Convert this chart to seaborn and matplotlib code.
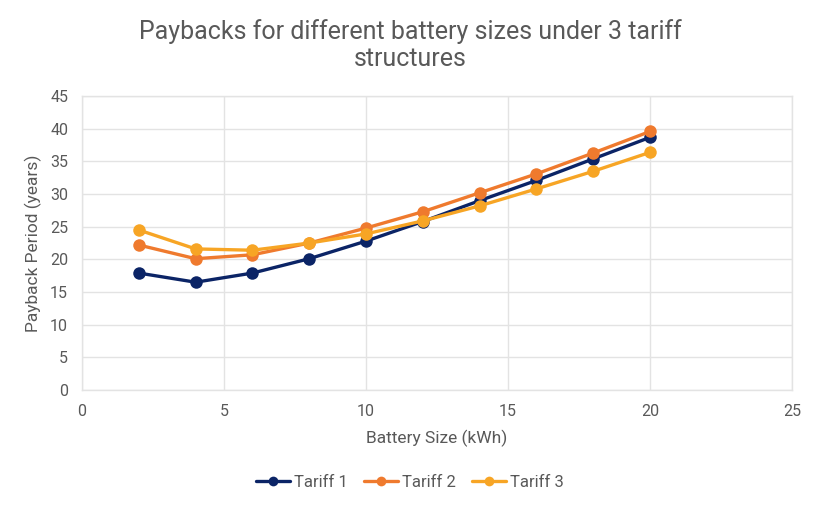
import pandas as pd
import matplotlib.pyplot as plt
import seaborn as sns
from matplotlib.lines import Line2D

# Battery sizes and payback periods
battery_kwh = [2, 4, 6, 8, 10, 12, 14, 16, 18, 20]
tariff_1 = [17.9, 16.5, 17.9, 20.1, 22.8, 25.8, 29.0, 32.1, 35.4, 38.7]
tariff_2 = [22.2, 20.1, 20.7, 22.5, 24.8, 27.3, 30.2, 33.1, 36.3, 39.6]
tariff_3 = [24.5, 21.6, 21.4, 22.5, 23.9, 25.9, 28.2, 30.8, 33.5, 36.4]

x_ticks = [0, 5, 10, 15, 20, 25]
y_ticks = [0, 5, 10, 15, 20, 25, 30, 35, 40, 45]

colors = {'Tariff 1': '#0b2466', 'Tariff 2': '#ef7a2e', 'Tariff 3': '#f7a525'}

df = pd.DataFrame({
    'battery': battery_kwh * 3,
    'payback': tariff_1 + tariff_2 + tariff_3,
    'tariff': ['Tariff 1'] * 10 + ['Tariff 2'] * 10 + ['Tariff 3'] * 10,
})

sns.set_theme(style='whitegrid')
plt.rcParams['font.family'] = ['Roboto', 'DejaVu Sans']
text_col = '#595959'

fig = plt.figure(figsize=(8.2, 5.09), dpi=100)
ax = fig.add_axes([0.1, 0.234, 0.866, 0.577])

sns.lineplot(data=df, x='battery', y='payback', hue='tariff', palette=colors,
             marker='o', markersize=9, markeredgewidth=0, linewidth=2.4, ax=ax,
             legend=False)

ax.set_xlim(0, 25)
ax.set_ylim(0, 45)
ax.set_xticks(x_ticks)
ax.set_yticks(y_ticks)
ax.grid(True, color='#e3e3e3', linewidth=1)
for s in ax.spines.values():
    s.set_color('#e3e3e3')
    s.set_linewidth(1)
ax.tick_params(axis='both', length=0, labelsize=11.5, labelcolor=text_col)
ax.tick_params(axis='x', pad=10)
ax.tick_params(axis='y', pad=10)

ax.set_xlabel('Battery Size (kWh)', fontsize=12.5, color=text_col, labelpad=8)
ax.set_ylabel('Payback Period (years)', fontsize=12.5, color=text_col, labelpad=6)

fig.suptitle('Paybacks for different battery sizes under 3 tariff\nstructures',
             x=0.5, y=0.962, fontsize=18, color=text_col, linespacing=1.15)

# legend centred on the figure, below the x label
handles = [Line2D([], [], color=c, linewidth=2.4, marker='o', markersize=7,
                  markeredgewidth=0) for c in colors.values()]
leg = fig.legend(handles, list(colors.keys()), loc='center',
                 bbox_to_anchor=(0.5, 0.052), ncol=3, frameon=False,
                 fontsize=12, handlelength=2.0, columnspacing=1.0,
                 handletextpad=0.25)
for t in leg.get_texts():
    t.set_color(text_col)

fig.savefig('out.png', dpi=100, facecolor='white')
